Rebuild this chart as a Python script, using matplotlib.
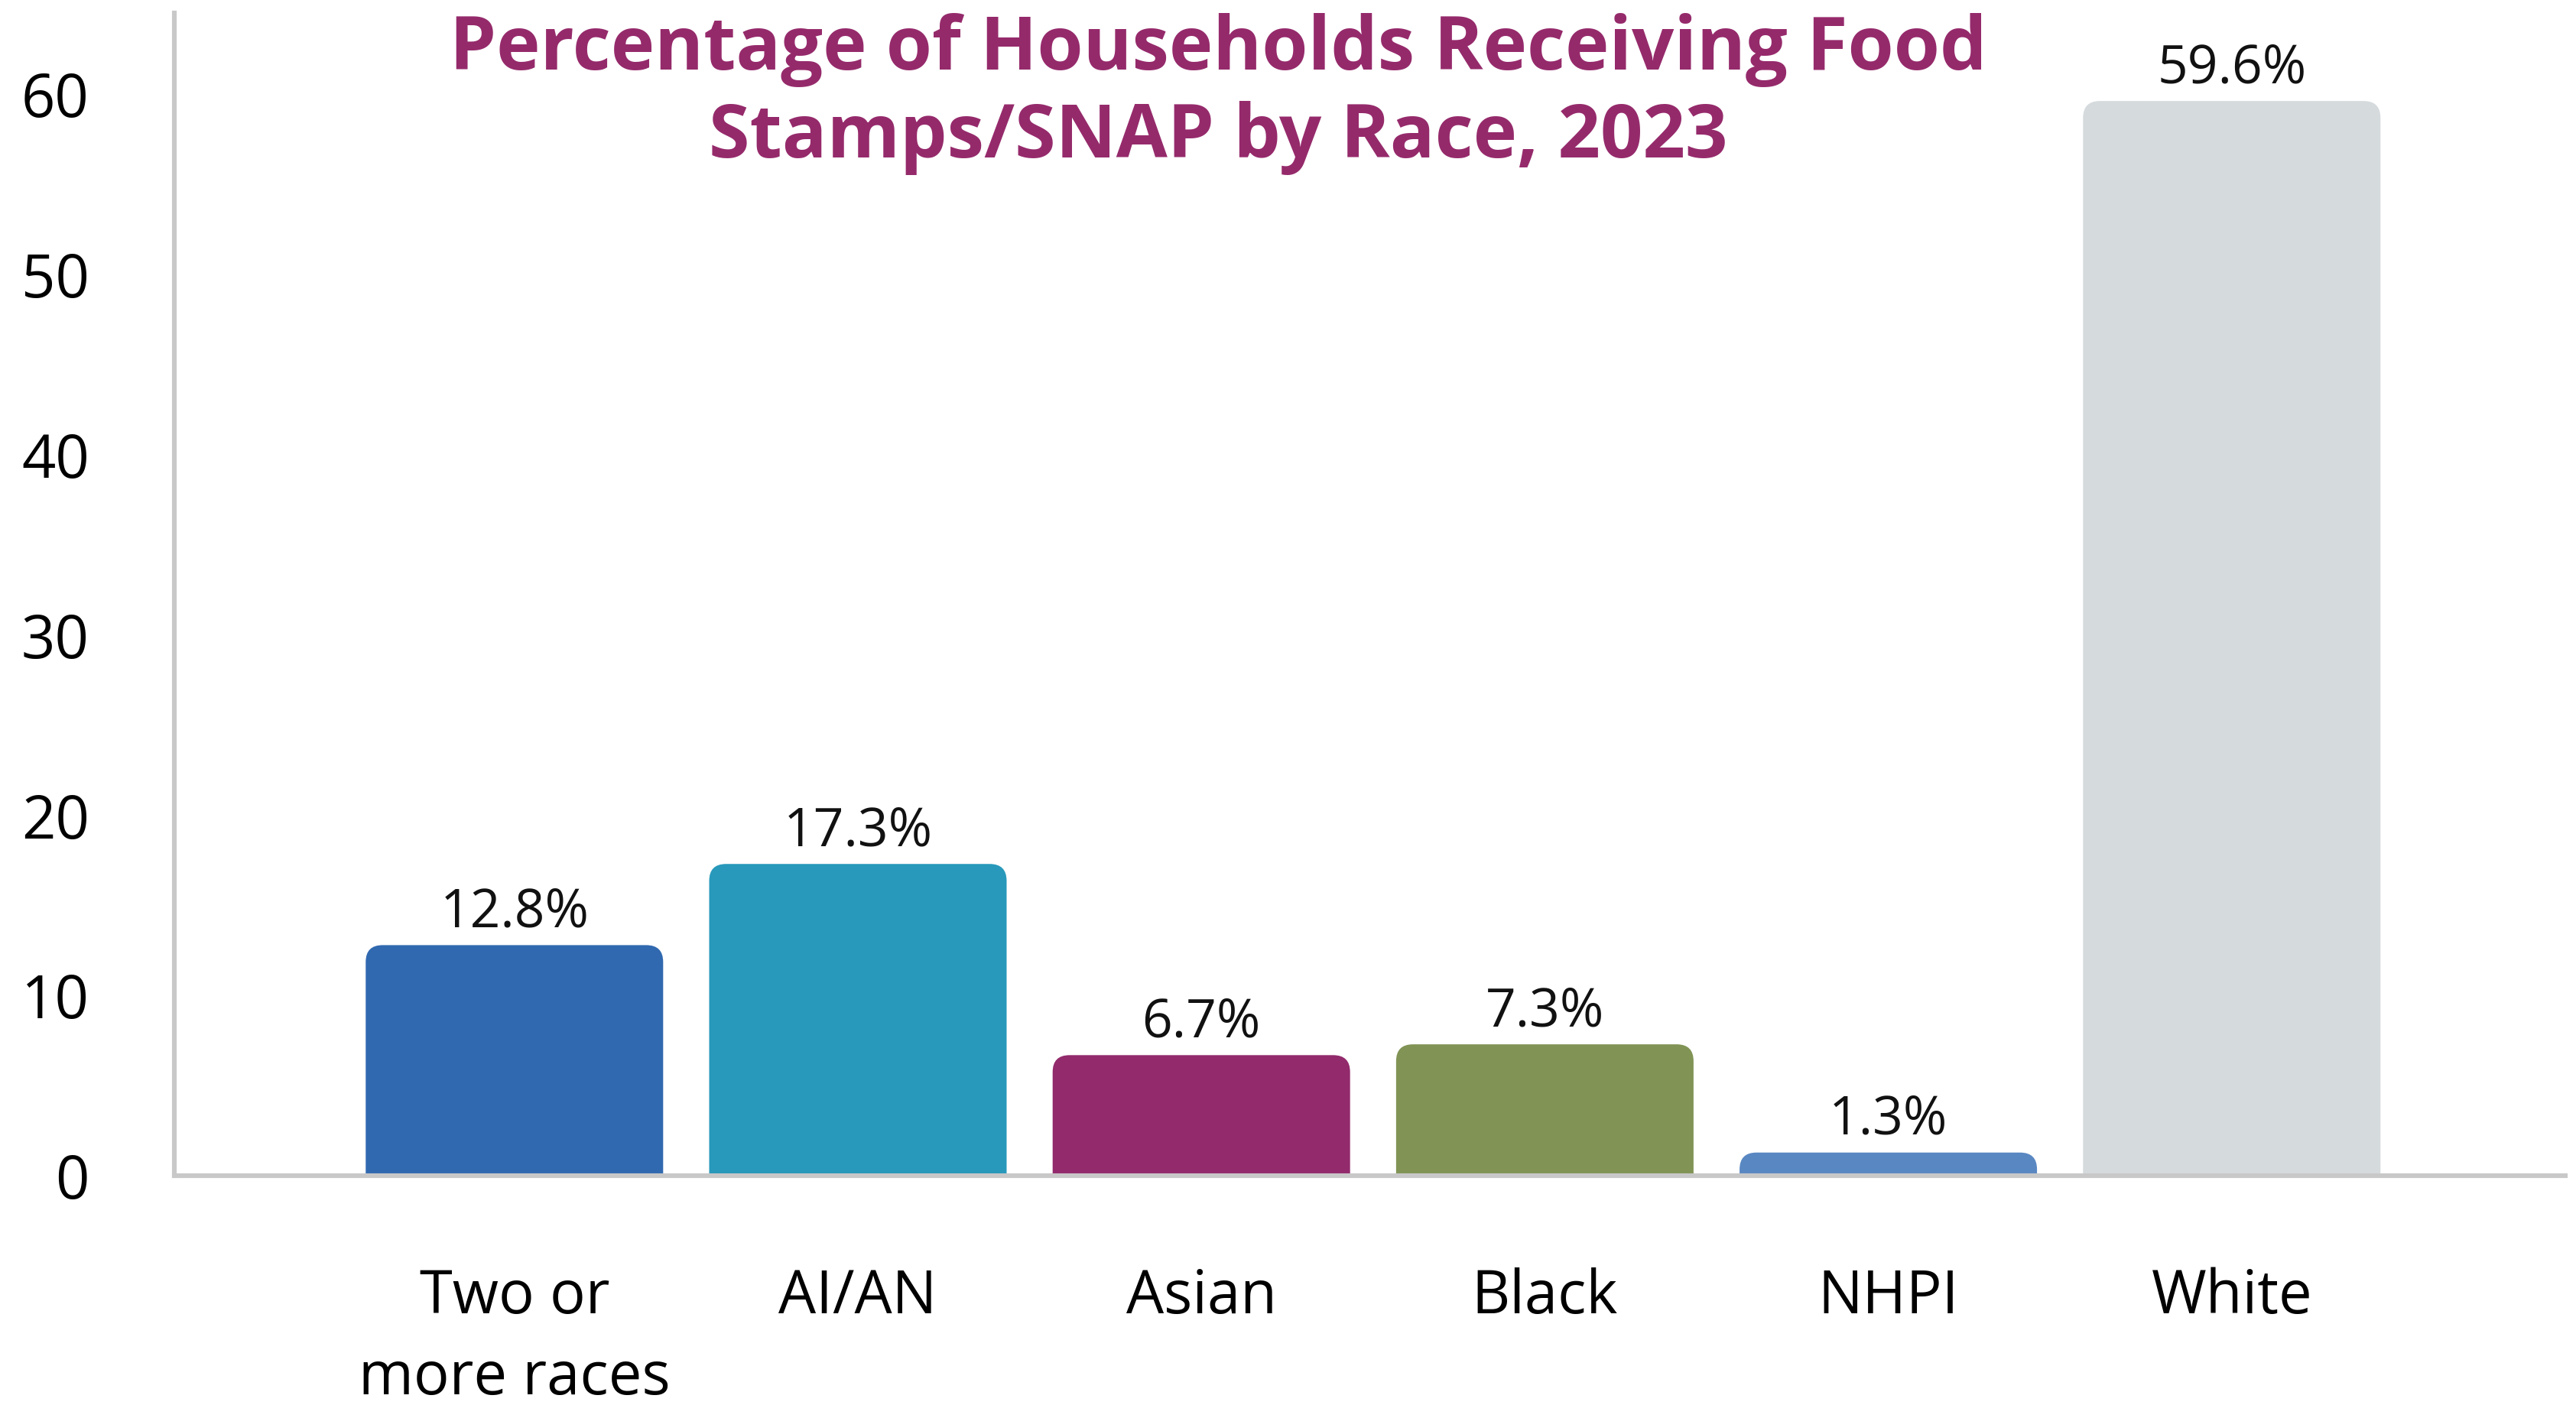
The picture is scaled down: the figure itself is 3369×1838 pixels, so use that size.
import matplotlib
matplotlib.use("Agg")
import matplotlib.pyplot as plt
from matplotlib.patches import FancyBboxPatch

# Chart data
races = ["Two or\nmore races", "AI/AN", "Asian", "Black", "NHPI", "White"]
shares = [12.8, 17.3, 6.7, 7.3, 1.3, 59.6]
bar_colors = ["#3169b0", "#2899bb", "#922a6c", "#819455", "#5987c2", "#d5dadd"]
y_ticks = [0, 10, 20, 30, 40, 50, 60]

plt.rcParams["font.family"] = ["Open Sans", "DejaVu Sans"]

fig = plt.figure(figsize=(3369 / 200, 1838 / 200), dpi=200)
ax = fig.add_axes([0.0677, 0.163, 0.928, 0.828])

x_pos = list(range(len(races)))
bar_width = 0.866
xlim = (-0.99, 5.97)
ylim = (0, 64.5)
ax.set_xlim(*xlim)
ax.set_ylim(*ylim)

# Pixel sizes of one data unit, used for the rounded corners
ax_w_px = 0.928 * 3369
ax_h_px = 0.828 * 1838
px_per_x = ax_w_px / (xlim[1] - xlim[0])
px_per_y = ax_h_px / (ylim[1] - ylim[0])
radius_px = 22
rx = radius_px / px_per_x
ry = radius_px / px_per_y

# Draw bars through the library, then swap them for rounded-top patches
bars = ax.bar(x_pos, shares, width=bar_width, color=bar_colors)
for rect, color, val in zip(bars, bar_colors, shares):
    rect.set_visible(False)
    patch = FancyBboxPatch((rect.get_x(), -2 * ry), rect.get_width(), rect.get_height() + 2 * ry,
                           boxstyle=f"round,pad=0,rounding_size={rx}",
                           mutation_aspect=ry / rx, facecolor=color, edgecolor="none")
    ax.add_patch(patch)
    ax.annotate(f"{val}%", (rect.get_x() + rect.get_width() / 2, val),
                xytext=(0, 2.5), textcoords="offset points",
                ha="center", va="bottom", fontsize=25, color="#111111")

# Axes styling
for side in ["top", "right"]:
    ax.spines[side].set_visible(False)
for side in ["left", "bottom"]:
    ax.spines[side].set_color("#c8c8c8")
    ax.spines[side].set_linewidth(2.2)
    ax.spines[side].set_zorder(5)

ax.set_yticks(y_ticks)
ax.set_yticklabels([str(t) for t in y_ticks], fontsize=28)
ax.set_xticks(x_pos)
ax.set_xticklabels(races, fontsize=28, linespacing=1.45)
ax.tick_params(axis="y", length=0, pad=40)
ax.tick_params(axis="x", length=0, pad=43)

fig.text(0.473, 0.991, "Percentage of Households Receiving Food\nStamps/SNAP by Race, 2023",
         ha="center", va="top", fontsize=35, fontweight="bold", color="#952a6b",
         linespacing=1.25)

fig.savefig("out.png", dpi=200, facecolor="white")
